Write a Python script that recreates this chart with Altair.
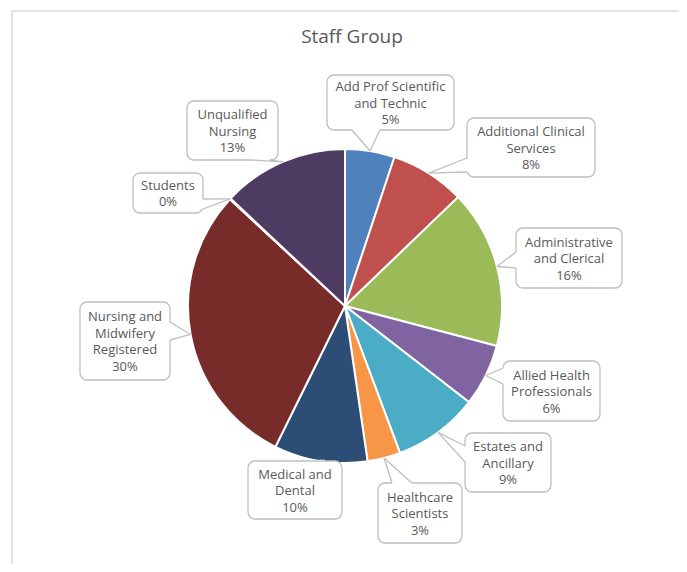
import math
import altair as alt
import pandas as pd

# ---- data ----
categories = ["Add Prof Scientific and Technic", "Additional Clinical Services",
              "Administrative and Clerical", "Allied Health Professionals",
              "Estates and Ancillary", "Healthcare Scientists", "Medical and Dental",
              "Nursing and Midwifery Registered", "Students", "Unqualified Nursing"]
shares = [5.1, 7.7, 16.3, 6.4, 8.8, 3.4, 9.6, 29.6, 0.1, 13.0]
wrapped = ["Add Prof Scientific\nand Technic", "Additional Clinical\nServices",
           "Administrative\nand Clerical", "Allied Health\nProfessionals",
           "Estates and\nAncillary", "Healthcare\nScientists", "Medical and\nDental",
           "Nursing and\nMidwifery\nRegistered", "Students", "Unqualified\nNursing"]
colors = ["#4F81BD", "#C0504D", "#9BBB59", "#8064A2", "#4BACC6",
          "#F79646", "#2C4D75", "#772C2A", "#5F7530", "#4D3B62"]
title_text = "Staff Group"

# ---- layout (chart pixel coordinates; page = chart + 8) ----
W, H = 671, 556
CX, CY, R = 337, 298, 157
LH = 16.5
# callout boxes: x0, x1, y0, y1 (page coords)
boxes = [(327, 454, 75, 130), (467, 595, 118, 177), (516, 622, 228, 288),
         (503, 600, 361, 421), (465, 551, 433, 492), (378, 462, 483, 543),
         (248, 342, 461, 519), (80, 170, 302, 380), (133, 203, 173, 213),
         (187, 278, 101, 160)]
# pointer base: side of the box and the two base positions along it
bases = [("bottom", 352, 380), ("left", 158, 172), ("left", 252, 268),
         ("left", 368, 384), ("left", 446, 462), ("top", 392, 412),
         ("top", 305, 325), ("right", 322, 340), ("right", 199, 209),
         ("bottom", 252, 270)]

pie = pd.DataFrame({"cat": categories, "share": shares, "ord": list(range(len(categories)))})

total = sum(shares)
box_rows, seg_rows, white_rows = [], [], []
cum = 0.0
for i, (cat, v) in enumerate(zip(categories, shares)):
    mid = (cum + v / 2) / total * 2 * math.pi
    cum += v
    tx, ty = CX + R * math.sin(mid), CY - R * math.cos(mid)
    x0, x1, y0, y1 = [c - 8 for c in boxes[i]]
    label = wrapped[i] + "\n" + f"{round(v)}%"
    n = label.count("\n") + 1
    box_rows.append({"x": x0, "x2": x1, "y": y0, "y2": y1,
                     "cx": (x0 + x1) / 2, "cy": (y0 + y1) / 2 - (n - 1) * LH / 2 + 1,
                     "label": label})
    side, a, b = bases[i]
    a, b = a - 8, b - 8
    if side == "bottom":
        p1, p2 = (a, y1), (b, y1)
    elif side == "top":
        p1, p2 = (a, y0), (b, y0)
    elif side == "left":
        p1, p2 = (x0, a), (x0, b)
    else:
        p1, p2 = (x1, a), (x1, b)
    white_rows.append({"x": p1[0], "y": p1[1], "x2": p2[0], "y2": p2[1]})
    for p in (p1, p2):
        seg_rows.append({"x": p[0], "y": p[1], "x2": tx, "y2": ty})

boxes_df = pd.DataFrame(box_rows)
segs_df = pd.DataFrame(seg_rows)
white_df = pd.DataFrame(white_rows)

xs = alt.Scale(domain=[0, W], range=[0, W], nice=False, zero=False)
ys = alt.Scale(domain=[0, H], range=[0, H], nice=False, zero=False)
X = lambda f: alt.X(f, type="quantitative", scale=xs, axis=None)
Y = lambda f: alt.Y(f, type="quantitative", scale=ys, axis=None)

arcs = alt.Chart(pie).mark_arc(outerRadius=R, stroke="white", strokeWidth=2).encode(
    theta=alt.Theta("share:Q", stack=True),
    order=alt.Order("ord:Q"),
    color=alt.Color("cat:N", scale=alt.Scale(domain=categories, range=colors), legend=None),
    x=alt.value(CX), y=alt.value(CY),
)

rects = alt.Chart(boxes_df).mark_rect(fill="white", stroke="#BFBFBF", strokeWidth=1.3,
                                      cornerRadius=7).encode(
    x=X("x"), x2="x2", y=Y("y"), y2="y2")

whites = alt.Chart(white_df).mark_rule(color="white", strokeWidth=2.5).encode(
    x=X("x"), x2="x2", y=Y("y"), y2="y2")

pointers = alt.Chart(segs_df).mark_rule(color="#BFBFBF", strokeWidth=1.3).encode(
    x=X("x"), x2="x2", y=Y("y"), y2="y2")

texts = alt.Chart(boxes_df).mark_text(font="Open Sans", fontSize=13, color="#595959",
                                      lineBreak="\n", lineHeight=LH,
                                      align="center", baseline="middle").encode(
    x=X("cx"), y=Y("cy"), text="label:N")

frame = pd.DataFrame({"x": [4, 4], "y": [3, 3], "x2": [W + 10, 4], "y2": [3, H + 10]})
border = alt.Chart(frame).mark_rule(color="#D9D9D9", strokeWidth=1.5).encode(
    x=X("x"), x2="x2", y=Y("y"), y2="y2")

title = alt.Chart(pd.DataFrame({"t": [title_text], "x": [344], "y": [29]})).mark_text(
    font="Open Sans", fontSize=19, color="#595959", align="center", baseline="middle").encode(
    x=X("x"), y=Y("y"), text="t:N")

chart = alt.layer(border, title, arcs, rects, whites, pointers, texts).properties(
    width=W, height=H, padding=0, autosize=alt.AutoSizeParams(type="none")
).configure_view(stroke=None)

chart.save("out.html", embed_options={"renderer": "svg", "actions": False})
